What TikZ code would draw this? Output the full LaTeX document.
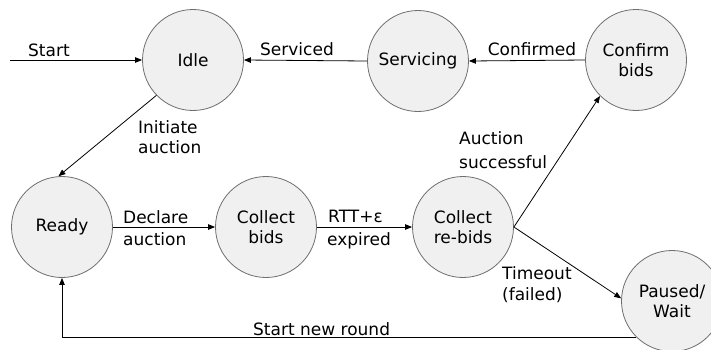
\documentclass[tikz,border=0pt]{standalone}
\usepackage{fontspec}
\setmainfont{DejaVu Sans}
\usetikzlibrary{arrows.meta}
\definecolor{statefill}{RGB}{240,240,240}
\definecolor{stateline}{RGB}{110,110,110}
\tikzset{
  state/.style={circle, draw=stateline, fill=statefill, line width=0.8pt,
    minimum size=101pt, inner sep=0pt, align=center,
    font=\fontsize{17}{20}\selectfont},
  trans/.style={draw=black, line width=0.8pt,
    -{Triangle[length=7pt,width=5.5pt]}},
  lbl/.style={inner sep=0pt, font=\fontsize{17}{20}\selectfont},
}
\begin{document}
\begin{tikzpicture}[x=1pt,y=-1pt]
\useasboundingbox (0,0) rectangle (711,349);
\clip (0,0) rectangle (711,349);
\fill[white] (0,0) rectangle (711,349);

% states
\node[state] (idle)    at (193,60)  {Idle};
\node[state] (serv)    at (418,61)  {Servicing};
\node[state] (confirm) at (636,60)  {Confirm\\bids};
\node[state] (ready)   at (62,227)  {Ready};
\node[state] (collect) at (266,227) {Collect\\bids};
\node[state] (rebids)  at (463,227) {Collect\\re-bids};
\node[state] (paused)  at (672,301) {Paused/\\Wait};

\coordinate (startpt) at (10,60);

% transitions
\draw[trans] (startpt) -- (idle.west);
\draw[trans] (serv.west) -- (idle.east);
\draw[trans] (confirm.west) -- (serv.east);
\draw[trans] (idle.224) -- (ready.94);
\draw[trans] (ready.east) -- (collect.west);
\draw[trans] (collect.east) -- (rebids.west);
\draw[trans] (rebids.east) -- (confirm.225);
\draw[trans] (rebids.east) -- (paused.177);
\draw[trans] (paused.225) -| (ready.south);

% labels
\node[lbl, anchor=base west] (lstart) at (28,56) {Start};
\node[lbl, anchor=base] (lserviced) at (297,55) {Serviced};
\node[lbl, anchor=base] (lconfirmed) at (532,55) {Confirmed};
\node[lbl, anchor=base west, align=left, font=\fontsize{17}{20}\selectfont] (linit) at (138,153) {Initiate\\auction};
\node[lbl, anchor=base west] (ldecl1) at (123,223) {Declare};
\node[lbl, anchor=base west] (ldecl2) at (123,245) {auction};
\node[lbl, anchor=base west] (lrtt1) at (328,222) {RTT+ε};
\node[lbl, anchor=base west] (lrtt2) at (327,245) {expired};
\node[lbl, anchor=base west, align=left, font=\fontsize{17}{23.5}\selectfont] (lsucc) at (459,168) {Auction\\successful};
\node[lbl, anchor=base west, align=left, font=\fontsize{17}{21}\selectfont] (ltime) at (502,300) {Timeout\\(failed)};
\node[lbl, anchor=base west] (lround) at (253,335) {Start new round};
\end{tikzpicture}
\end{document}
